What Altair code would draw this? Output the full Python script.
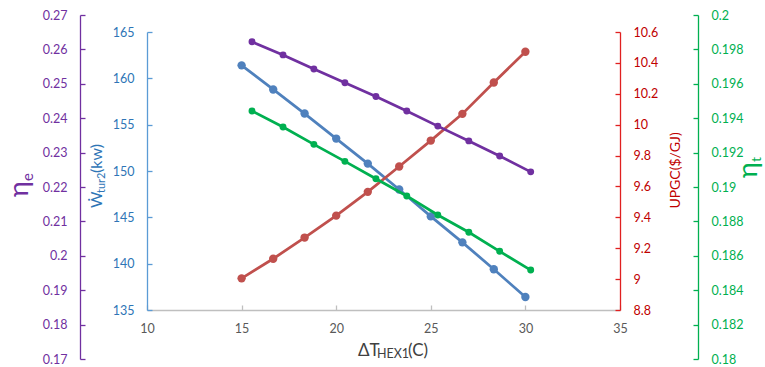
import altair as alt
import pandas as pd

# ---------------- data ----------------
x_primary = [15.0, 16.67, 18.33, 20.0, 21.67, 23.33, 25.0, 26.67, 28.33, 30.0]
x_secondary = [15.55, 17.19, 18.82, 20.46, 22.10, 23.73, 25.37, 27.01, 28.64, 30.28]
w_tur2 = [161.4, 158.8, 156.2, 153.5, 150.8, 148.0, 145.1, 142.3, 139.4, 136.4]
upgc = [9.005, 9.132, 9.269, 9.411, 9.565, 9.729, 9.897, 10.07, 10.273, 10.472]
eta_e = [0.2622, 0.2584, 0.2543, 0.2503, 0.2463, 0.2421, 0.2377, 0.2334, 0.2290, 0.2244]
eta_t = [0.19442, 0.19349, 0.19248, 0.19149, 0.19048, 0.18948, 0.18837, 0.18737, 0.18626, 0.18517]

x_ticks = [10, 15, 20, 25, 30, 35]
w_ticks = [135, 140, 145, 150, 155, 160, 165]
upgc_ticks = [8.8, 9.0, 9.2, 9.4, 9.6, 9.8, 10.0, 10.2, 10.4, 10.6]
eta_e_ticks = [0.17, 0.18, 0.19, 0.20, 0.21, 0.22, 0.23, 0.24, 0.25, 0.26, 0.27]
eta_t_ticks = [0.18, 0.182, 0.184, 0.186, 0.188, 0.19, 0.192, 0.194, 0.196, 0.198, 0.2]

x_domain = [10, 35]
w_domain = [135, 165]
upgc_domain = [8.8, 10.6]
eta_e_domain = [0.17, 0.27]
eta_t_domain = [0.18, 0.2]

# ---------------- layout / style ----------------
W, H = 473, 344
INNER = [295, 17]          # pixel range of the inner (blue / red) axes
FULL = [H, 0]
FONT = "Lato, Open Sans, DejaVu Sans"
PURPLE = "#7030A0"
BLUE_LINE, BLUE_AXIS, BLUE_TEXT = "#4F81BD", "#5B9BD5", "#2E75B6"
RED_LINE, RED_AXIS, RED_TEXT = "#C0504D", "#E02020", "#C00000"
GREEN = "#00B050"
GRAY_AXIS, GRAY_TEXT = "#BFBFBF", "#595959"

df_w = pd.DataFrame({"x": x_primary, "v": w_tur2})
df_u = pd.DataFrame({"x": x_primary, "v": upgc})
df_e = pd.DataFrame({"x": x_secondary, "v": eta_e})
df_t = pd.DataFrame({"x": x_secondary, "v": eta_t})

xscale = alt.Scale(domain=x_domain, nice=False, zero=False)


def lab_axis(orient, offset, values, color):
    return alt.Axis(orient=orient, offset=offset, values=values, format="~g",
                    ticks=False, tickSize=0, domain=False, grid=False,
                    labelColor=color, labelFont=FONT, labelFontSize=12.5,
                    labelPadding=13, labelOverlap=False, labelFlush=False, title=None)


def tick_axis(orient, offset, values, color):
    return alt.Axis(orient=orient, offset=offset, values=values, ticks=True,
                    tickSize=5, tickColor=color, tickWidth=1.3, domain=True,
                    domainColor=color, domainWidth=1.3, labels=False, grid=False,
                    title=None)


def series(df, dom, rng, color, size, la, ta):
    ys = alt.Scale(domain=dom, range=rng, nice=False, zero=False)
    line = alt.Chart(df).mark_line(color=color, strokeWidth=2.75).encode(
        x=alt.X("x:Q", scale=xscale, axis=None),
        y=alt.Y("v:Q", scale=ys, axis=la),
    )
    pts = alt.Chart(df).mark_circle(color=color, size=size, opacity=1).encode(
        x=alt.X("x:Q", scale=xscale, axis=None),
        y=alt.Y("v:Q", scale=ys, axis=ta),
    )
    return line, pts


# blue (inner left)
bl, bp = series(df_w, w_domain, INNER, BLUE_LINE, 70,
                lab_axis("left", 0, w_ticks, BLUE_TEXT),
                tick_axis("right", -W, w_ticks, BLUE_AXIS))
# x axis carried by blue layers
bl = bl.encode(x=alt.X("x:Q", scale=xscale,
                       axis=alt.Axis(orient="bottom", offset=-(H - INNER[0]), values=x_ticks,
                                     ticks=False, tickSize=0, domain=False, grid=False,
                                     labelColor=GRAY_TEXT, labelFont=FONT, labelFontSize=12.5,
                                     labelPadding=12, labelFlush=False, labelOverlap=False,
                                     title=None)))
bp = bp.encode(x=alt.X("x:Q", scale=xscale,
                       axis=alt.Axis(orient="top", offset=-INNER[0], values=x_ticks,
                                     ticks=True, tickSize=5, tickColor=GRAY_AXIS, tickWidth=1.3,
                                     domain=True, domainColor=GRAY_AXIS, domainWidth=1.3,
                                     labels=False, grid=False, title=None)))
# red (inner right)
rl, rp = series(df_u, upgc_domain, INNER, RED_LINE, 70,
                lab_axis("right", 0, upgc_ticks, RED_TEXT),
                tick_axis("left", -W, upgc_ticks, RED_AXIS))
# purple (outer left)
pl, pp = series(df_e, eta_e_domain, FULL, PURPLE, 48,
                lab_axis("left", 67, eta_e_ticks, PURPLE),
                tick_axis("right", -(W + 67), eta_e_ticks, PURPLE))
# green (outer right)
gl, gp = series(df_t, eta_t_domain, FULL, GREEN, 48,
                lab_axis("right", 78, eta_t_ticks, GREEN),
                tick_axis("left", -(W + 78), eta_t_ticks, GREEN))


def label(text, x, y, size, color, angle=0, align="left"):
    kw = dict(text=text, fontSize=size, color=color, font=FONT, align=align,
              baseline="alphabetic")
    if angle:
        kw["angle"] = angle
    return alt.Chart(alt.Data(values=[{"a": 1}])).mark_text(**kw).encode(
        x=alt.value(x), y=alt.value(y))


texts = [
    # x title  ΔT_HEX1(C)
    label("ΔT", 211, 341, 17, "#404040"),
    label("HEX1", 230, 343, 12.5, "#404040"),
    label("(C)", 261, 341, 17, "#404040"),
    # η_e
    label("η", -119, 182, 27, PURPLE, angle=270),
    label("e", -114, 166, 15, PURPLE, angle=270),
    # Ẇ_tur2(kw)
    label("Ẇ", -45, 193, 16, BLUE_TEXT, angle=270),
    label("tur2", -42, 178, 11, BLUE_TEXT, angle=270),
    label("(kw)", -45, 158, 16, BLUE_TEXT, angle=270),
    # UPGC($/GJ)
    label("UPGC($/GJ)", 533, 155.5, 14, RED_TEXT, angle=270, align="center"),
    # η_t
    label("η", 610, 163, 27, GREEN, angle=270),
    label("t", 614, 147, 14, GREEN, angle=270),
]

chart = alt.layer(bl, bp, rl, rp, pl, pp, gl, gp, *texts).resolve_scale(
    x="independent", y="independent"
).properties(
    width=W, height=H,
    autosize=alt.AutoSizeParams(type="none"),
    padding={"left": 147, "top": 15, "right": 145, "bottom": 8},
    background="white",
).configure_view(stroke=None)

chart.save("out.html", embed_options={"renderer": "svg", "actions": False})
